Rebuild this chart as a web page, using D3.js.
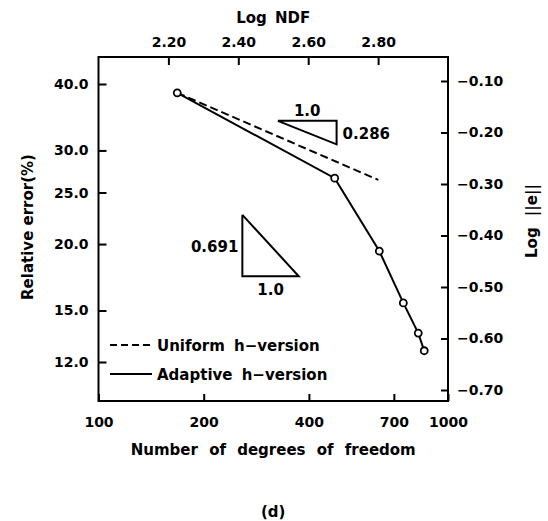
<!DOCTYPE html>
<html>
<head>
<meta charset="utf-8">
<script src="https://cdn.jsdelivr.net/npm/d3@7"></script>
<style>
  body { margin: 0; background: #fff; }
  svg { display: block; }
  text { font-family: "DejaVu Sans", sans-serif; font-weight: bold; fill: #000; }
</style>
</head>
<body>
<div id="chart"></div>
<script>
// data
let ndf_adaptive = [168, 474, 636, 745, 822, 855];
let err_adaptive = [38.5, 26.6, 19.4, 15.5, 13.6, 12.6];   // relative error (%)
let ndf_uniform = [168, 632];
let err_uniform = [38.5, 26.4];

let left_ticks = [12, 15, 20, 25, 30, 40];
let right_ticks = [-0.10, -0.20, -0.30, -0.40, -0.50, -0.60, -0.70];
let bottom_ticks = [100, 200, 400, 700, 1000];
let top_ticks = [2.20, 2.40, 2.60, 2.80];

// slope triangles (ndf, error%)
let tri_uniform = [[326, 34.1], [480, 34.1], [480, 30.8]];
let tri_adaptive = [[258, 22.7], [258, 17.4], [374, 17.4]];

let width = 548, height = 521;
let plot = {left: 98.5, right: 448, top: 57, bottom: 401};

let svg = d3.select("#chart")
  .append("svg")
  .attr("width", width)
  .attr("height", height);

// scales
let x = d3.scaleLog().domain([100, 1000]).range([plot.left, plot.right]);
let xTop = d3.scaleLinear().domain([2, 3]).range([plot.left, plot.right]);
let yLeft = d3.scaleLog().domain([40, 12]).range([84, 362]);
let yRight = d3.scaleLinear().domain([-0.10, -0.70]).range([81, 390]);

// axes, ticks point inward
let axLeft = d3.axisLeft(yLeft).tickValues(left_ticks).tickFormat(d3.format(".1f"))
  .tickSizeInner(-8).tickSizeOuter(0).tickPadding(10);
let axRight = d3.axisRight(yRight).tickValues(right_ticks).tickFormat(d3.format(".2f"))
  .tickSizeInner(-7).tickSizeOuter(0).tickPadding(9);
let axBottom = d3.axisBottom(x).tickValues(bottom_ticks).tickFormat(d3.format("d"))
  .tickSizeInner(-7).tickSizeOuter(0).tickPadding(16);
let axTop = d3.axisTop(xTop).tickValues(top_ticks).tickFormat(d3.format(".2f"))
  .tickSizeInner(-8).tickSizeOuter(0).tickPadding(10);

function styleAxis(g) {
  g.select(".domain").remove();
  g.selectAll(".tick line").attr("stroke", "#000").attr("stroke-width", 2);
  g.selectAll(".tick text").style("font-size", "14px").attr("fill", "#000");
}

svg.append("g").attr("transform", `translate(${plot.left},0)`).call(axLeft).call(styleAxis);
svg.append("g").attr("transform", `translate(${plot.right},0)`).call(axRight).call(styleAxis);
svg.append("g").attr("transform", `translate(0,${plot.bottom})`).call(axBottom).call(styleAxis);
svg.append("g").attr("transform", `translate(0,${plot.top})`).call(axTop).call(styleAxis);

// frame
svg.append("rect")
  .attr("x", plot.left).attr("y", plot.top)
  .attr("width", plot.right - plot.left).attr("height", plot.bottom - plot.top)
  .attr("fill", "none").attr("stroke", "#000").attr("stroke-width", 2);

let line = d3.line().x(d => x(d[0])).y(d => yLeft(d[1]));

// uniform h-version (dashed)
svg.append("path")
  .datum(d3.zip(ndf_uniform, err_uniform))
  .attr("d", line)
  .attr("fill", "none").attr("stroke", "#000").attr("stroke-width", 2)
  .attr("stroke-dasharray", "8,4");

// adaptive h-version
svg.append("path")
  .datum(d3.zip(ndf_adaptive, err_adaptive))
  .attr("d", line)
  .attr("fill", "none").attr("stroke", "#000").attr("stroke-width", 2);

svg.selectAll(".pt")
  .data(d3.zip(ndf_adaptive, err_adaptive))
  .enter()
  .append("circle")
  .attr("class", "pt")
  .attr("cx", d => x(d[0]))
  .attr("cy", d => yLeft(d[1]))
  .attr("r", 3.5)
  .attr("fill", "#fff").attr("stroke", "#000").attr("stroke-width", 1.8);

// slope triangles
[tri_uniform, tri_adaptive].forEach(function (t) {
  svg.append("path")
    .attr("d", line(t.concat([t[0]])))
    .attr("fill", "none").attr("stroke", "#000").attr("stroke-width", 2)
    .attr("stroke-linejoin", "miter");
});

function label(txt, px, py, anchor, size) {
  return svg.append("text")
    .attr("x", px).attr("y", py)
    .attr("text-anchor", anchor || "start")
    .style("font-size", (size || 15) + "px")
    .text(txt);
}

// triangle labels
label("1.0", (x(tri_uniform[0][0]) + x(tri_uniform[1][0])) / 2, yLeft(tri_uniform[0][1]) - 5, "middle");
label("0.286", x(tri_uniform[1][0]) + 6, (yLeft(tri_uniform[1][1]) + yLeft(tri_uniform[2][1])) / 2 + 6);
label("0.691", x(tri_adaptive[0][0]) - 4, (yLeft(tri_adaptive[0][1]) + yLeft(tri_adaptive[1][1])) / 2 + 6, "end");
label("1.0", (x(tri_adaptive[1][0]) + x(tri_adaptive[2][0])) / 2, yLeft(tri_adaptive[1][1]) + 19, "middle");

// legend
svg.append("line")
  .attr("x1", 110).attr("x2", 152).attr("y1", 345).attr("y2", 345)
  .attr("stroke", "#000").attr("stroke-width", 2).attr("stroke-dasharray", "7,4");
label("Uniform h\u2212version", 157, 351).style("word-spacing", "4px");
svg.append("line")
  .attr("x1", 110).attr("x2", 152).attr("y1", 374).attr("y2", 374)
  .attr("stroke", "#000").attr("stroke-width", 2);
label("Adaptive h\u2212version", 157, 380).style("word-spacing", "4px");

// axis titles
let midX = (plot.left + plot.right) / 2;
label("Log NDF", midX, 23, "middle").style("word-spacing", "3px");
label("Number of degrees of freedom", midX, 455, "middle").style("word-spacing", "6px");
label("(d)", midX, 517, "middle");

svg.append("text")
  .attr("transform", "translate(33,227) rotate(-90)")
  .attr("text-anchor", "middle")
  .style("font-size", "15px")
  .text("Relative error(%)");

svg.append("text")
  .attr("transform", "translate(537,221) rotate(-90)")
  .attr("text-anchor", "middle")
  .style("font-size", "15px")
  .style("word-spacing", "6px")
  .text("Log ||e||");
</script>
</body>
</html>
